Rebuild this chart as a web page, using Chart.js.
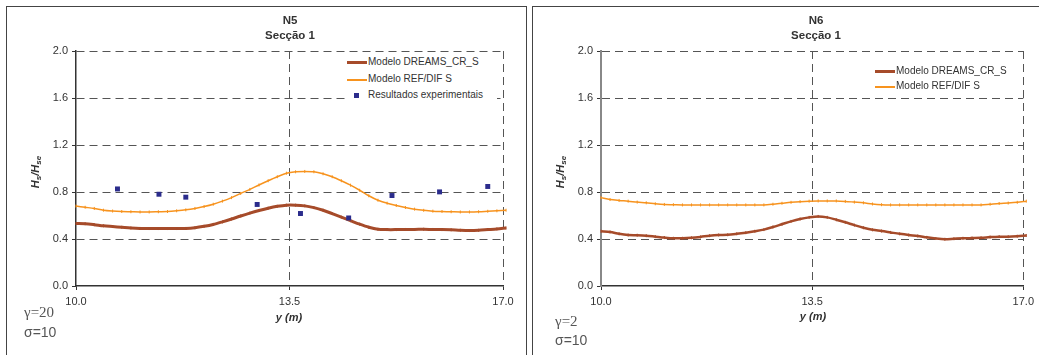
<!DOCTYPE html>
<html>
<head>
<meta charset="utf-8">
<script src="https://cdn.jsdelivr.net/npm/chart.js@4.4.0/dist/chart.umd.min.js"></script>
<style>
body { margin: 0; background: #fff; width: 1039px; height: 355px; overflow: hidden; position: relative; font-family: Arial, "Liberation Sans", sans-serif; color: #333; }
.panel { position: absolute; top: 6px; height: 370px; border: 1.5px solid #444; box-sizing: border-box; }
.wrap { position: absolute; top: 0; height: 355px; }
.t { position: absolute; white-space: nowrap; line-height: 14px; }
.title { font-weight: bold; font-size: 11.5px; text-align: center; width: 120px; }
.ytitle { font-weight: bold; font-style: italic; font-size: 11px; width: 70px; height: 14px; text-align: center; transform: rotate(-90deg); }
.ytitle sub { font-size: 8px; vertical-align: -2px; }
.xtitle { font-weight: bold; font-style: italic; font-size: 11px; width: 60px; text-align: center; }
.gam { font-family: "Liberation Serif", "Times New Roman", serif; font-size: 15px; color: #555; }
.sig { font-size: 14px; color: #555; }
.leg { position: absolute; background: #fff; font-size: 10px; }
.row { position: absolute; left: 0; height: 14px; line-height: 14px; white-space: nowrap; }
.row .ln { position: absolute; left: 0; width: 20px; }
.row .sq { position: absolute; left: 7px; top: 5px; width: 5px; height: 5px; background: #2b2c8c; }
.row span.tx { position: absolute; left: 21px; }
</style>
</head>
<body>
<div class="panel" style="left:6px;width:521px;"></div>
<div class="panel" style="left:532px;width:530px;"></div>

<div class="wrap" style="left:0;width:526px;"><canvas id="c1" width="526" height="355"></canvas></div>
<div class="wrap" style="left:533px;width:506px;"><canvas id="c2" width="506" height="355"></canvas></div>

<!-- left panel texts -->
<div class="t title" style="left:230px;top:13px;">N5</div>
<div class="t title" style="left:230px;top:28px;">Secção 1</div>
<div class="t ytitle" style="left:0px;top:165px;">H<sub>s</sub>/H<sub>se</sub></div>
<div class="t xtitle" style="left:259px;top:310px;">y (m)</div>
<div class="t gam" style="left:24px;top:305px;">γ=20</div>
<div class="t sig" style="left:24px;top:325px;">σ=10</div>
<div class="leg" style="left:347px;top:54px;width:150px;height:48px;">
  <div class="row" style="top:1px;"><div class="ln" style="top:6px;height:3px;background:#a64b2a;"></div><span class="tx">Modelo DREAMS_CR_S</span></div>
  <div class="row" style="top:18px;"><div class="ln" style="top:7px;height:1.5px;background:#f7931e;"></div><span class="tx">Modelo REF/DIF S</span></div>
  <div class="row" style="top:34px;"><div class="sq"></div><span class="tx">Resultados experimentais</span></div>
</div>

<!-- right panel texts -->
<div class="t title" style="left:756px;top:13px;">N6</div>
<div class="t title" style="left:756px;top:28px;">Secção 1</div>
<div class="t ytitle" style="left:525px;top:165px;">H<sub>s</sub>/H<sub>se</sub></div>
<div class="t xtitle" style="left:783px;top:309px;">y (m)</div>
<div class="t gam" style="left:555px;top:314px;">γ=2</div>
<div class="t sig" style="left:555px;top:333px;">σ=10</div>
<div class="leg" style="left:875px;top:63px;width:130px;height:30px;">
  <div class="row" style="top:1px;"><div class="ln" style="top:6px;height:2.5px;background:#a64b2a;"></div><span class="tx">Modelo DREAMS_CR_S</span></div>
  <div class="row" style="top:16px;"><div class="ln" style="top:7px;height:1.5px;background:#f7931e;"></div><span class="tx">Modelo REF/DIF S</span></div>
</div>

<script>
// posicao transversal y (m)
const posY = [10.00, 10.15, 10.30, 10.45, 10.60, 10.75, 10.90, 11.05, 11.20, 11.35, 11.50, 11.65,
  11.80, 11.95, 12.10, 12.25, 12.40, 12.55, 12.70, 12.85, 13.00, 13.15, 13.30, 13.45,
  13.60, 13.75, 13.90, 14.05, 14.20, 14.35, 14.50, 14.65, 14.80, 14.95, 15.10, 15.25,
  15.40, 15.55, 15.70, 15.85, 16.00, 16.15, 16.30, 16.45, 16.60, 16.75, 16.90, 17.05];

// N5
const dreamsN5 = [0.532, 0.530, 0.522, 0.512, 0.506, 0.500, 0.494, 0.490, 0.489, 0.489, 0.489, 0.489,
  0.490, 0.496, 0.508, 0.524, 0.546, 0.570, 0.596, 0.620, 0.642, 0.662, 0.678, 0.688,
  0.688, 0.682, 0.667, 0.645, 0.616, 0.586, 0.556, 0.526, 0.500, 0.483, 0.480, 0.480,
  0.481, 0.481, 0.483, 0.481, 0.480, 0.478, 0.474, 0.472, 0.474, 0.480, 0.486, 0.494];
const refdifN5 = [0.680, 0.670, 0.660, 0.645, 0.638, 0.634, 0.632, 0.630, 0.630, 0.632, 0.634, 0.640,
  0.648, 0.660, 0.676, 0.696, 0.722, 0.752, 0.788, 0.822, 0.860, 0.896, 0.930, 0.960,
  0.972, 0.975, 0.972, 0.955, 0.930, 0.896, 0.858, 0.815, 0.768, 0.730, 0.705, 0.685,
  0.668, 0.654, 0.644, 0.637, 0.634, 0.632, 0.630, 0.630, 0.632, 0.636, 0.640, 0.645];
const expPosN5 = [10.68, 11.36, 11.80, 12.97, 13.68, 14.47, 15.18, 15.96, 16.75];
const expN5 = [0.826, 0.781, 0.756, 0.694, 0.617, 0.579, 0.770, 0.801, 0.847];

// N6
const dreamsN6 = [0.466, 0.460, 0.444, 0.434, 0.432, 0.428, 0.420, 0.412, 0.406, 0.406, 0.410, 0.418,
  0.428, 0.434, 0.436, 0.444, 0.454, 0.466, 0.480, 0.502, 0.526, 0.550, 0.570, 0.584,
  0.592, 0.584, 0.564, 0.542, 0.518, 0.496, 0.478, 0.468, 0.456, 0.444, 0.434, 0.426,
  0.414, 0.404, 0.398, 0.402, 0.406, 0.408, 0.410, 0.416, 0.420, 0.420, 0.424, 0.430];
const refdifN6 = [0.752, 0.736, 0.728, 0.722, 0.714, 0.708, 0.700, 0.694, 0.692, 0.690, 0.690, 0.690,
  0.690, 0.690, 0.690, 0.690, 0.690, 0.690, 0.690, 0.696, 0.704, 0.712, 0.718, 0.722,
  0.724, 0.724, 0.724, 0.720, 0.714, 0.708, 0.698, 0.692, 0.690, 0.690, 0.690, 0.690,
  0.690, 0.690, 0.690, 0.690, 0.690, 0.690, 0.690, 0.696, 0.702, 0.706, 0.712, 0.722];

const corBrown = '#a64b2a';
const corOrange = '#f7931e';
const corExp = '#2b2c8c';

function pares(xs, ys) {
  return xs.map((x, i) => ({ x: x, y: ys[i] }));
}

function linha(label, xs, ys, cor, largura, ordem) {
  return {
    label: label,
    data: pares(xs, ys),
    borderColor: cor,
    backgroundColor: cor,
    borderWidth: largura,
    pointStyle: 'line',
    rotation: 90,
    pointRadius: 1.5,
    pointBorderWidth: 1,
    pointBorderColor: cor,
    tension: 0.3,
    clip: false,
    order: ordem
  };
}

function opcoes(yAxisColor, padRight, yWidth) {
  const tickFont = { family: 'Arial, "Liberation Sans", sans-serif', size: 11 };
  return {
    responsive: false,
    animation: false,
    layout: { padding: { top: 51, right: padRight, left: 0, bottom: 0 } },
    plugins: { legend: { display: false }, tooltip: { enabled: false } },
    scales: {
      x: {
        type: 'linear', min: 10, max: 17,
        ticks: { stepSize: 3.5, color: '#333', font: tickFont, padding: 5, maxRotation: 0,
          callback: v => Number(v).toFixed(1) },
        grid: { color: c => c.index === 0 ? 'rgba(0,0,0,0)' : '#555', lineWidth: 1,
          tickLength: 4, tickColor: '#333' },
        border: { display: true, color: '#333', width: 1.5, dash: [8, 5] },
        afterFit: s => { s.height = 69; }
      },
      y: {
        min: 0, max: 2,
        ticks: { stepSize: 0.4, color: '#333', font: tickFont, padding: 4,
          callback: v => Number(v).toFixed(1) },
        grid: { color: c => c.index === 0 ? 'rgba(0,0,0,0)' : '#555', lineWidth: 1,
          tickLength: 4, tickColor: '#333' },
        border: { display: true, color: yAxisColor, width: yAxisColor === '#333' ? 1.5 : 2, dash: [8, 5] },
        afterFit: s => { s.width = yWidth; }
      }
    }
  };
}

new Chart(document.getElementById('c1'), {
  type: 'line',
  data: {
    datasets: [
      {
        label: 'Resultados experimentais',
        data: pares(expPosN5, expN5),
        showLine: false,
        pointStyle: 'rect',
        pointRadius: 3.5,
        pointBackgroundColor: corExp,
        pointBorderColor: corExp,
        pointBorderWidth: 0,
        order: 0
      },
      linha('Modelo DREAMS_CR_S', posY, dreamsN5, corBrown, 3, 1),
      linha('Modelo REF/DIF S', posY, refdifN5, corOrange, 1.5, 2)
    ]
  },
  options: opcoes('#333', 23, 76)
});

new Chart(document.getElementById('c2'), {
  type: 'line',
  data: {
    datasets: [
      linha('Modelo DREAMS_CR_S', posY, dreamsN6, corBrown, 2.5, 1),
      linha('Modelo REF/DIF S', posY, refdifN6, corOrange, 1.5, 2)
    ]
  },
  options: opcoes('#888', 11, 68)
});
</script>
</body>
</html>
